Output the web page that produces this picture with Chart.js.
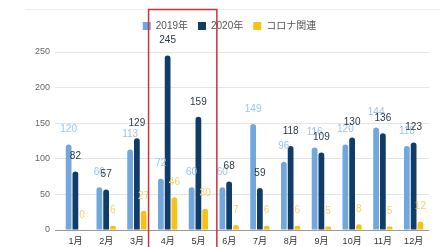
<!DOCTYPE html>
<html>
<head>
<meta charset="utf-8">
<script src="https://cdn.jsdelivr.net/npm/chart.js@4"></script>
<style>
  html, body { margin: 0; padding: 0; background: #fff; }
  #wrap { width: 443px; height: 247px; }
</style>
</head>
<body>
<div id="wrap"><canvas id="chart" width="443" height="247"></canvas></div>
<script>
// data
const months = ["1月", "2月", "3月", "4月", "5月", "6月", "7月", "8月", "9月", "10月", "11月", "12月"];
const y2019 = [120, 60, 113, 72, 60, 60, 149, 96, 116, 120, 144, 118];
const y2020 = [82, 57, 129, 245, 159, 68, 59, 118, 109, 130, 136, 123];
const corona = [0, 6, 27, 46, 30, 7, 6, 6, 5, 8, 5, 12];
const yTicks = [0, 50, 100, 150, 200, 250];

const FONT = "'Liberation Sans', 'Noto Sans CJK JP', sans-serif";

// value labels above each bar
const valueLabels = {
    id: 'valueLabels',
    afterDatasetsDraw(chart) {
        const ctx = chart.ctx;
        ctx.save();
        ctx.font = "10px " + FONT;
        ctx.textAlign = 'center';
        ctx.textBaseline = 'middle';
        chart.data.datasets.forEach((ds, i) => {
            const meta = chart.getDatasetMeta(i);
            meta.data.forEach((bar, j) => {
                ctx.fillStyle = ds.labelColor;
                ctx.fillText(String(ds.data[j]), bar.x, bar.y - 15);
            });
        });
        ctx.restore();
    }
};

// red frame around Apr-May and faint top rule
const highlight = {
    id: 'highlight',
    afterDraw(chart) {
        const ctx = chart.ctx;
        const x = chart.scales.x;
        const step = x.getPixelForValue(1) - x.getPixelForValue(0);
        const left = x.getPixelForValue(3) - step * 0.62;
        const right = x.getPixelForValue(4) + step * 0.6;
        ctx.save();
        ctx.strokeStyle = '#eeeeee';
        ctx.lineWidth = 1;
        ctx.beginPath();
        ctx.moveTo(25, 9.5);
        ctx.lineTo(440, 9.5);
        ctx.stroke();
        ctx.strokeStyle = '#d0303a';
        ctx.lineWidth = 1.5;
        ctx.strokeRect(left, 9.5, right - left, chart.height + 10);
        ctx.restore();
    }
};

// room under the legend
const legendSpace = {
    id: 'legendSpace',
    beforeInit(chart) {
        const origFit = chart.legend.fit;
        chart.legend.fit = function () {
            origFit.bind(chart.legend)();
            this.height += 11;
        };
    }
};

new Chart(document.getElementById("chart"), {
    type: 'bar',
    data: {
        labels: months,
        datasets: [
            { label: '2019年', data: y2019, backgroundColor: '#72a7dd', labelColor: '#9cc4e8' },
            { label: '2020年', data: y2020, backgroundColor: '#123c68', labelColor: '#2c3a48' },
            { label: 'コロナ関連', data: corona, backgroundColor: '#f5c21b', labelColor: '#f3d466' }
        ]
    },
    options: {
        responsive: false,
        animation: false,
        layout: { padding: { top: 11, right: 14, left: 30, bottom: 0 } },
        datasets: {
            bar: {
                barPercentage: 0.85,
                categoryPercentage: 0.66,
                borderRadius: { topLeft: 3, topRight: 3 },
                borderSkipped: 'bottom'
            }
        },
        scales: {
            y: {
                min: 0,
                max: 250,
                afterBuildTicks: (axis) => { axis.ticks = yTicks.map(v => ({ value: v })); },
                border: { display: false },
                grid: {
                    color: (c) => c.tick && c.tick.value === 0 ? '#9a9a9a' : '#e4e4e4',
                    tickLength: 5
                },
                ticks: { color: '#666', font: { size: 9, family: FONT }, padding: 5 }
            },
            x: {
                afterFit: (axis) => { axis.height = 17; },
                grid: { display: false, drawTicks: false },
                border: { display: false },
                ticks: { color: '#333', font: { size: 9, family: FONT }, padding: 6 }
            }
        },
        plugins: {
            legend: {
                position: 'top',
                labels: {
                    boxWidth: 8,
                    boxHeight: 8,
                    padding: 10,
                    color: '#555',
                    font: { size: 10, family: FONT }
                }
            },
            tooltip: { enabled: false }
        }
    },
    plugins: [valueLabels, highlight, legendSpace]
});
</script>
</body>
</html>
